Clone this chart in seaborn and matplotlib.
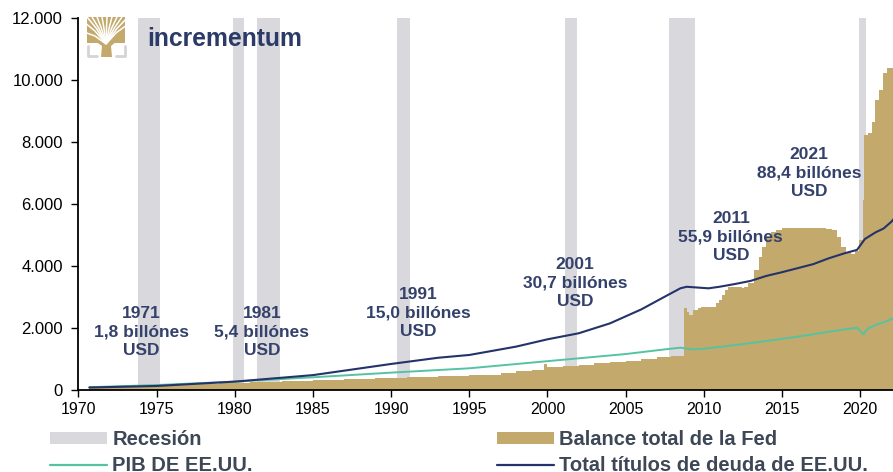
import matplotlib
matplotlib.use('Agg')

import numpy as np
import pandas as pd
import matplotlib.pyplot as plt
import seaborn as sns
from matplotlib.patches import Patch, Polygon, Rectangle
from matplotlib.lines import Line2D
from matplotlib.ticker import FuncFormatter


# recessions (start, end) in decimal years
rec_start = [1973.8, 1979.9, 1981.4, 1990.4, 2001.1, 2007.8, 2019.95]
rec_end = [1975.2, 1980.6, 1982.9, 1991.2, 2001.9, 2009.45, 2020.35]

# Fed total balance (step series)
fed_year = [1970.7, 1973, 1975, 1977, 1979, 1981, 1983, 1985, 1987, 1989, 1991,
            1993, 1995, 1997, 1998, 1999, 1999.8, 2000.0, 2001, 2002, 2003, 2004,
            2005, 2006, 2007, 2007.9, 2008.72, 2008.9, 2009.05, 2009.3, 2009.6,
            2009.8, 2010.75, 2010.95, 2011.15, 2011.35, 2011.55, 2012.45, 2012.55,
            2012.85, 2013.2, 2013.5, 2013.7, 2014.0, 2014.3, 2014.6, 2015.0,
            2016.0, 2017.0, 2017.8, 2018.2, 2018.5, 2018.8, 2019.1, 2019.4,
            2019.7, 2019.9, 2020.15, 2020.25, 2020.5, 2020.75, 2020.95, 2021.2,
            2021.45, 2021.7, 2021.9, 2022.2]
fed_value = [140, 160, 180, 200, 230, 260, 290, 330, 370, 400, 430,
             460, 500, 560, 610, 650, 840, 730, 770, 820, 860, 900,
             950, 1010, 1060, 1100, 2640, 2530, 2420, 2580, 2650,
             2690, 2800, 2900, 3060, 3230, 3330, 3280, 3330,
             3440, 3870, 4300, 4620, 4900, 5100, 5160, 5240,
             5230, 5220, 5200, 5160, 4950, 4620, 4460, 4400,
             4480, 4840, 6130, 8230, 8290, 8650, 9350, 9680,
             10230, 10390, 10390, 10390]

# US GDP
gdp_year = [1970.7, 1975, 1980, 1985, 1990, 1995, 2000, 2005, 2007.5, 2008.5,
            2009.3, 2010, 2012, 2014, 2016, 2018, 2019.8, 2020.2, 2020.5, 2021,
            2021.5, 2022.2]
gdp_value = [90, 160, 270, 410, 560, 700, 930, 1160, 1310, 1365,
             1310, 1330, 1450, 1580, 1720, 1880, 2010, 1800, 1990, 2100,
             2185, 2330]

# total US debt securities
debt_year = [1970.7, 1975, 1980, 1985, 1990, 1993, 1995, 1998, 2000, 2002, 2004,
             2006, 2007.5, 2008.5, 2008.9, 2010.3, 2011, 2012, 2013, 2014,
             2015, 2016, 2017, 2018, 2019, 2019.8, 2020.3, 2021, 2021.5, 2022,
             2022.2]
debt_value = [80, 130, 270, 480, 840, 1040, 1130, 1400, 1635, 1830, 2150,
              2600, 3010, 3280, 3330, 3280, 3330, 3420, 3520, 3680,
              3800, 3930, 4060, 4250, 4410, 4520, 4870, 5090, 5210, 5430,
              5550]

# annotations: year label, amount
note_year = ['1971', '1981', '1991', '2001', '2011', '2021']
note_amount = ['1,8', '5,4', '15,0', '30,7', '55,9', '88,4']
note_x = [1974.05, 1981.73, 1991.73, 2001.77, 2011.73, 2016.74]
note_y = [1881, 1881, 2484, 3452, 4945, 7000]

TAN = '#c4a96c'
GREY = '#d9d8dc'
NAVY = '#24336a'
GREEN = '#55c3a2'
TXT = '#34416b'
LEG = '#3d4756'

sns.set_style('ticks')
plt.rcParams['font.family'] = ['Liberation Sans', 'DejaVu Sans']

fig = plt.figure(figsize=(8.93, 4.72), dpi=100)
ax = fig.add_axes([78.4 / 893, 1 - 390 / 472, 1 - 78.4 / 893, 372 / 472])

for s, e in zip(rec_start, rec_end):
    ax.axvspan(s, e, color=GREY, lw=0, zorder=0)

ax.fill_between(fed_year, fed_value, step='post', color=TAN, lw=0, zorder=1)

df_gdp = pd.DataFrame({'year': gdp_year, 'value': gdp_value})
df_debt = pd.DataFrame({'year': debt_year, 'value': debt_value})
sns.lineplot(data=df_gdp, x='year', y='value', ax=ax, color=GREEN, lw=1.4, zorder=3)
sns.lineplot(data=df_debt, x='year', y='value', ax=ax, color=NAVY, lw=1.5, zorder=4)

for yr, amt, x, y in zip(note_year, note_amount, note_x, note_y):
    ax.text(x, y, '%s\n%s billónes\nUSD' % (yr, amt), ha='center', va='center',
            multialignment='center', fontsize=12.5, fontweight='bold', color=TXT,
            linespacing=1.3, zorder=6)

ax.set_xlim(1970, 2022.1)
ax.set_ylim(0, 12000)
ax.set_xticks(range(1970, 2021, 5))
ax.set_yticks(range(0, 12001, 2000))
ax.yaxis.set_major_formatter(FuncFormatter(lambda v, _: '{:,}'.format(int(v)).replace(',', '.')))
ax.set_xlabel('')
ax.set_ylabel('')
ax.tick_params(axis='x', labelsize=11.5, length=5, width=1, color='black', pad=4)
ax.tick_params(axis='y', labelsize=12, length=5, width=1, color='black', pad=6)
for lab in ax.get_xticklabels() + ax.get_yticklabels():
    lab.set_color('black')
sns.despine(ax=ax)
ax.spines['left'].set_color('black')
ax.spines['bottom'].set_color('black')
ax.spines['left'].set_linewidth(1.3)
ax.spines['bottom'].set_linewidth(1.3)
ax.spines['left'].set_zorder(7)
ax.spines['bottom'].set_zorder(7)

# legend
handles = [Patch(facecolor=GREY, edgecolor='none'),
           Line2D([], [], color=GREEN, lw=1.6),
           Patch(facecolor=TAN, edgecolor='none'),
           Line2D([], [], color=NAVY, lw=1.6)]
labels = ['Recesión', 'PIB DE EE.UU.', 'Balance total de la Fed',
          'Total títulos de deuda de EE.UU.']
leg = fig.legend(handles, labels, ncol=2, loc='upper left',
                 bbox_to_anchor=(50 / 893, 1 - 430 / 472), frameon=False,
                 borderpad=0, borderaxespad=0, handlelength=2.85,
                 handleheight=0.55, handletextpad=0.25, columnspacing=12.1,
                 labelspacing=0.37, prop={'size': 14.5, 'weight': 'bold'})
for t in leg.get_texts():
    t.set_color(LEG)

# logo: tree crown square with white branch gaps, trunk, grey brackets
lax = fig.add_axes([86 / 893, 1 - 58 / 472, 42 / 893, 41 / 472])
lax.set_xlim(0, 42)
lax.set_ylim(0, 41)
lax.axis('off')
lax.add_patch(Rectangle((1, 15), 38, 26, color=TAN, lw=0))
for tx, ty in [(-2, 36), (1, 41), (6, 41), (11, 41), (16, 41), (21, 41),
               (26, 41), (31, 41), (36, 41), (41, 40), (41, 33), (-2, 26)]:
    lax.plot([20, (20 + tx) / 2, tx], [14, (14 + ty) / 2 + 2, ty],
             color='white', lw=1.1, solid_capstyle='butt')
lax.add_patch(Polygon([(15, 1), (26, 1), (25, 12), (31, 17), (9, 17), (16, 12)],
                      closed=True, color=TAN, lw=0))
lax.plot([2, 2, 11], [12, 2, 2], color='#d4d4d4', lw=2)
lax.plot([30, 39, 39], [2, 2, 12], color='#d4d4d4', lw=2)
fig.text(147 / 893, 1 - 39 / 472, 'incrementum', ha='left', va='center',
         fontsize=17.8, fontweight='bold', color='#2b3a67')

fig.savefig('out.png', dpi=100)
